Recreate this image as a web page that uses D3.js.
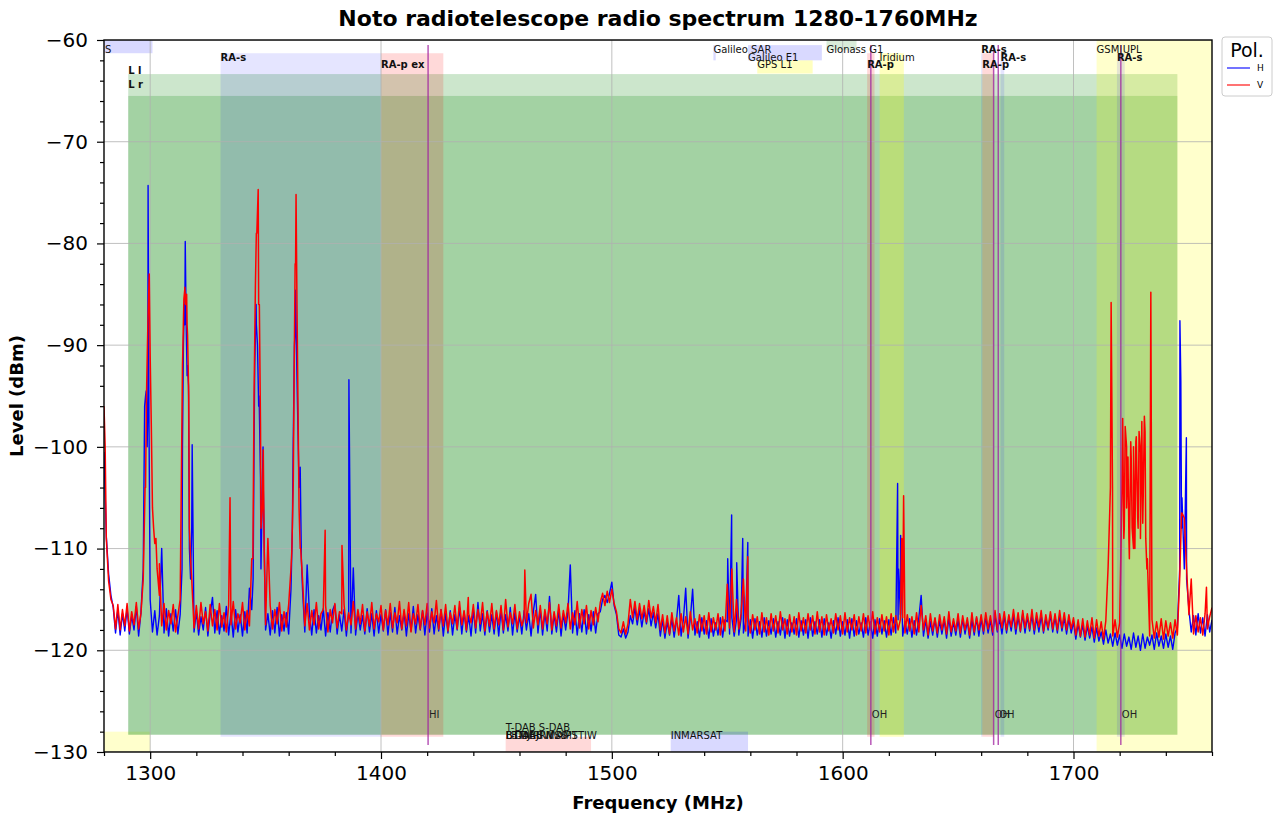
<!DOCTYPE html>
<html>
<head>
<meta charset="utf-8">
<script src="https://cdn.jsdelivr.net/npm/d3@7"></script>
<style>
  body { margin: 0; background: #fff; }
  svg { font-family: "DejaVu Sans", sans-serif; }
</style>
</head>
<body>
<svg id="chart" width="1274" height="818"></svg>
<script>
'use strict';

// Spectrum levels (dBm), one sample per MHz starting at 1280 MHz
const fStart = 1280;
const levelH = [
  -100.5,-108.8,-112.5,-114.6,-115.8,-118.3,-116.0,-118.5,-116.4,-118.1,
  -115.9,-118.4,-116.6,-118.0,-115.7,-118.6,-116.3,-112.0,-95.0,-96.0,
  -115.0,-118.2,-116.1,-118.5,-116.6,-110.0,-118.3,-115.9,-118.6,-116.4,
  -118.1,-116.0,-118.4,-116.5,-100.0,-88.0,-93.0,-110.0,-108.0,-118.2,
  -116.2,-118.5,-116.7,-118.0,-115.8,-118.6,-116.4,-114.8,-118.3,-116.1,
  -118.4,-116.6,-118.1,-115.7,-118.5,-116.3,-118.7,-116.0,-118.2,-116.5,
  -118.6,-116.2,-118.3,-113.9,-116.0,-100.0,-88.0,-96.0,-112.0,-104.0,
  -118.0,-116.4,-118.5,-116.1,-118.3,-115.8,-118.6,-116.5,-118.1,-116.3,
  -118.4,-114.0,-99.0,-88.0,-98.0,-103.0,-114.0,-118.2,-111.6,-116.4,
  -118.5,-116.0,-118.3,-116.6,-118.0,-115.9,-118.6,-116.3,-118.2,-116.1,
  -115.5,-118.4,-116.5,-118.1,-116.0,-118.6,-116.2,-118.3,-111.9,-118.5,
  -116.3,-118.0,-116.6,-118.4,-115.9,-118.2,-116.4,-118.6,-116.1,-118.3,
  -116.5,-118.1,-116.0,-118.5,-116.3,-118.2,-115.8,-118.4,-116.6,-118.0,
  -116.2,-118.6,-116.4,-118.1,-115.7,-118.3,-116.5,-118.0,-116.1,-118.5,
  -116.3,-118.2,-115.9,-118.4,-116.6,-118.1,-116.0,-118.6,-116.4,-118.3,
  -116.1,-118.5,-116.5,-118.0,-115.8,-118.4,-116.2,-118.2,-116.6,-118.6,
  -116.0,-118.3,-115.3,-118.1,-116.4,-118.5,-116.1,-118.2,-116.5,-118.4,
  -116.2,-118.6,-116.0,-118.3,-116.5,-118.1,-115.8,-118.5,-116.3,-118.2,
  -116.6,-118.4,-116.1,-118.0,-116.4,-118.6,-116.2,-114.5,-118.3,-116.0,
  -118.5,-116.3,-118.1,-114.7,-118.4,-116.5,-118.2,-116.0,-118.6,-116.4,
  -118.0,-116.2,-111.6,-118.3,-116.1,-118.5,-116.4,-118.2,-116.0,-118.4,
  -116.5,-118.1,-116.2,-118.3,-116.4,-116.2,-115.0,-114.6,-115.3,-114.4,
  -113.3,-115.6,-116.5,-118.5,-118.7,-117.9,-118.8,-118.2,-116.6,-117.4,
  -115.8,-117.5,-116.0,-117.7,-116.2,-117.4,-115.9,-117.6,-116.3,-117.8,
  -116.4,-118.6,-117.0,-118.8,-117.2,-118.5,-116.9,-118.7,-117.1,-114.6,
  -118.6,-117.0,-113.9,-118.8,-116.9,-114.0,-118.5,-117.2,-118.7,-116.8,
  -118.4,-117.1,-118.8,-116.9,-118.6,-117.3,-118.5,-116.8,-118.7,-117.0,
  -117.2,-118.4,-116.8,-118.6,-117.0,-118.5,-116.9,-118.3,-117.1,-118.6,
  -117.0,-118.8,-116.9,-118.5,-117.2,-118.7,-116.8,-118.6,-117.1,-118.4,
  -116.9,-118.7,-117.2,-118.5,-116.8,-118.8,-117.0,-118.6,-117.3,-118.4,
  -116.9,-118.7,-117.1,-118.5,-117.0,-118.8,-116.8,-118.6,-117.2,-118.4,
  -117.0,-118.7,-116.9,-118.5,-117.3,-118.8,-117.1,-118.4,-116.8,-118.6,
  -117.2,-118.5,-117.0,-118.8,-116.9,-118.6,-117.1,-118.4,-117.3,-118.7,
  -116.8,-118.5,-117.2,-118.8,-117.0,-118.6,-116.9,-118.4,-117.1,-118.7,
  -117.0,-118.5,-116.8,-118.3,-117.0,-116.5,-118.6,-117.2,-118.4,-116.9,
  -118.7,-117.1,-118.5,-116.8,-114.6,-118.6,-117.0,-118.8,-117.2,-118.5,
  -116.9,-118.7,-117.1,-118.4,-117.0,-118.8,-116.8,-118.6,-117.2,-118.5,
  -117.0,-118.7,-116.9,-118.4,-117.1,-118.8,-117.0,-118.5,-116.8,-118.6,
  -116.9,-118.4,-116.7,-118.3,-117.0,-118.5,-116.6,-118.2,-116.9,-118.4,
  -116.6,-118.3,-116.8,-118.1,-116.5,-118.4,-116.7,-118.2,-116.4,-118.3,
  -116.7,-118.1,-116.5,-118.4,-116.8,-118.2,-116.6,-118.3,-116.9,-118.0,
  -116.5,-118.2,-116.7,-118.3,-116.6,-118.1,-116.8,-118.4,-116.9,-118.3,
  -117.2,-118.9,-117.4,-118.7,-117.5,-119.0,-117.6,-118.8,-117.7,-119.2,
  -117.8,-119.1,-118.2,-119.4,-118.0,-119.3,-118.4,-119.6,-118.3,-119.5,
  -118.5,-119.8,-118.4,-119.6,-118.7,-119.9,-118.3,-119.7,-118.6,-120.0,
  -118.4,-119.8,-118.7,-119.5,-118.5,-119.9,-118.3,-119.6,-118.6,-119.8,
  -118.4,-119.7,-118.6,-119.9,-118.3,-117.8,-112.0,-105.0,-112.0,-113.0,
  -116.0,-118.2,-116.6,-118.5,-116.4,-118.3,-116.8,-118.6,-116.5,-118.2,
  -117.0
];
const levelV = [
  -96.0,-109.0,-113.2,-115.0,-115.6,-117.9,-115.5,-118.0,-116.0,-117.6,
  -115.4,-118.1,-116.2,-117.5,-115.3,-117.9,-116.4,-113.0,-104.0,-88.0,
  -91.0,-106.0,-109.5,-112.0,-114.6,-117.6,-115.4,-118.0,-116.1,-117.4,
  -115.5,-118.2,-116.6,-115.0,-92.0,-84.5,-88.0,-108.0,-113.0,-117.8,
  -115.6,-117.9,-115.3,-117.4,-116.2,-118.1,-115.5,-117.6,-116.0,-118.0,
  -115.4,-117.7,-116.3,-118.2,-115.6,-117.5,-115.2,-117.9,-116.4,-117.3,
  -115.3,-118.0,-116.1,-117.6,-111.0,-95.0,-79.0,-86.0,-108.0,-100.3,
  -117.5,-109.0,-115.6,-117.9,-116.0,-117.4,-115.3,-118.1,-116.2,-117.7,
  -115.5,-112.0,-103.5,-82.0,-95.0,-110.0,-113.0,-117.6,-115.4,-118.0,
  -116.1,-117.5,-115.3,-117.9,-116.4,-116.0,-115.6,-118.2,-116.0,-117.3,
  -115.4,-117.8,-116.2,-116.4,-115.5,-118.0,-116.3,-117.5,-115.2,-117.9,
  -116.0,-117.4,-115.5,-118.1,-116.2,-117.6,-115.3,-117.9,-116.4,-117.2,
  -115.6,-118.0,-116.1,-117.5,-115.4,-117.8,-116.3,-117.3,-115.2,-117.9,
  -116.0,-117.6,-115.3,-118.2,-116.4,-117.4,-115.5,-117.9,-116.1,-117.5,
  -115.4,-117.8,-116.2,-117.3,-115.1,-117.9,-116.0,-117.6,-115.5,-118.1,
  -116.3,-117.4,-115.6,-117.9,-115.2,-117.5,-116.1,-118.0,-116.4,-117.3,
  -115.5,-117.8,-116.0,-117.4,-115.3,-118.1,-116.2,-117.6,-115.4,-117.9,
  -116.1,-117.5,-115.6,-118.0,-115.0,-117.7,-116.3,-117.4,-115.5,-117.9,
  -116.2,-117.6,-116.8,-117.3,-115.4,-114.5,-117.8,-116.1,-117.5,-115.6,
  -117.9,-116.0,-117.4,-115.3,-118.0,-116.2,-117.6,-115.5,-117.8,-116.1,
  -117.3,-115.4,-117.9,-116.3,-117.5,-115.2,-117.8,-116.0,-117.4,-115.6,
  -117.9,-116.1,-117.5,-115.8,-117.2,-115.3,-114.4,-115.6,-114.2,-115.3,
  -114.0,-115.4,-116.2,-117.9,-118.3,-117.2,-118.4,-117.4,-115.0,-116.8,
  -115.2,-117.0,-115.4,-116.9,-115.6,-117.2,-115.1,-116.8,-115.7,-117.3,
  -115.5,-118.0,-116.5,-118.3,-116.6,-118.4,-116.3,-118.1,-116.8,-118.5,
  -116.4,-118.2,-116.7,-118.4,-116.2,-118.0,-116.9,-118.3,-116.5,-118.1,
  -116.6,-118.4,-116.3,-118.2,-116.8,-118.0,-116.4,-118.5,-116.7,-118.1,
  -113.5,-117.8,-112.0,-118.2,-115.0,-117.9,-116.4,-113.0,-118.1,-116.6,
  -118.3,-116.5,-118.0,-116.7,-118.4,-116.3,-118.2,-116.8,-118.5,-116.4,
  -118.1,-116.6,-118.3,-116.2,-118.0,-116.9,-118.4,-116.5,-118.2,-116.7,
  -118.5,-116.3,-118.1,-116.8,-118.3,-116.4,-118.0,-116.6,-118.4,-116.2,
  -118.2,-116.7,-118.5,-116.5,-118.1,-116.9,-118.3,-116.4,-118.0,-116.6,
  -118.4,-116.3,-118.2,-116.8,-118.0,-116.5,-118.5,-116.7,-118.1,-116.4,
  -118.3,-116.6,-118.0,-116.2,-118.4,-116.8,-118.2,-116.5,-118.1,-116.7,
  -118.5,-116.4,-118.2,-116.6,-118.0,-117.0,-116.8,-118.3,-116.5,-118.1,
  -116.7,-118.4,-116.3,-118.2,-115.6,-118.0,-116.6,-118.5,-116.4,-118.1,
  -116.8,-118.3,-116.5,-118.0,-116.7,-118.4,-116.2,-118.2,-116.9,-118.1,
  -116.4,-118.3,-116.6,-118.0,-116.8,-118.5,-116.3,-118.2,-116.7,-118.0,
  -116.5,-118.1,-116.3,-117.9,-116.6,-118.2,-116.1,-118.0,-116.4,-117.8,
  -116.2,-118.0,-116.5,-117.7,-116.0,-117.9,-116.3,-118.1,-116.1,-117.8,
  -116.4,-117.9,-116.0,-118.0,-116.3,-117.7,-116.1,-118.1,-116.5,-117.8,
  -116.2,-117.9,-116.4,-118.0,-116.1,-117.8,-116.3,-118.0,-116.5,-117.9,
  -116.8,-118.5,-117.0,-118.6,-116.9,-118.7,-117.1,-118.5,-116.8,-118.8,
  -117.0,-118.6,-117.2,-118.9,-117.1,-111.8,-104.0,-118.6,-117.0,-118.7,
  -117.3,-104.0,-108.0,-100.0,-109.0,-101.0,-110.0,-99.5,-108.0,-100.5,
  -107.5,-98.5,-111.0,-118.6,-117.0,-118.8,-117.2,-118.7,-116.9,-118.9,
  -117.1,-118.6,-117.3,-118.8,-117.0,-118.5,-113.0,-106.5,-107.0,-112.0,
  -116.5,-113.0,-118.4,-116.6,-118.2,-116.8,-118.5,-116.4,-117.9,-116.7,
  -115.8
];

// Narrow peaks read between the 1 MHz samples: [MHz, dBm]
const peaksH = [
  [1297.6,-96],[1298.3,-94.5],[1298.7,-100],[1299.1,-74.3],[1299.5,-98],
  [1313.8,-112],[1314.4,-90],[1314.8,-86],[1315.2,-79.8],[1315.6,-88],[1316.2,-92],
  [1316.6,-94],[1317.5,-113],[1318.2,-99.8],
  [1344.6,-113],[1345.3,-92],[1345.9,-86],[1346.5,-90],[1347.2,-95],[1347.8,-103],[1348.9,-100],
  [1361.6,-108],[1362.0,-99.3],[1362.5,-90],[1363.0,-84.6],[1363.5,-92],[1364.0,-98],
  [1364.5,-104],[1365.0,-102],[1365.5,-111],
  [1386.1,-93.4],
  [1550.2,-111],[1551.9,-106.7],[1554.1,-111.4],[1556.7,-109],[1558.9,-109.4],
  [1623.8,-103.6],[1624.2,-112],[1625.1,-108.7],
  [1746.1,-87.6],[1746.5,-93.5],[1746.8,-108],[1748.9,-99.1]
];
const peaksV = [
  [1280.5,-100],[1297.8,-104],[1298.4,-95],[1299.0,-88],[1299.6,-83],[1300.5,-98],
  [1301.5,-108],[1302.5,-109],[1304.0,-111.5],
  [1314.2,-90],[1314.6,-85.5],[1315.0,-84.3],[1315.4,-86],[1315.8,-85],[1316.2,-89],
  [1316.7,-95],[1317.5,-111],
  [1334.6,-105],
  [1344.5,-111],[1345.0,-95],[1345.6,-84],[1346.2,-79],[1346.8,-74.7],[1347.3,-86],
  [1347.8,-98],[1348.6,-106],[1349.0,-100.3],[1349.4,-110],
  [1361.4,-110],[1362.0,-103.5],[1362.4,-92],[1362.8,-82],[1363.2,-75.2],[1363.6,-86],
  [1364.0,-95],[1364.5,-106],[1365.2,-110],
  [1375.8,-108.2],[1383.1,-109.7],
  [1437.8,-114.8],[1462.3,-112.1],
  [1558.9,-110.8],
  [1625.6,-109],[1626.4,-104.8],
  [1716.3,-85.8],[1716.9,-104],
  [1721.3,-97.2],[1721.8,-109],[1722.4,-98],[1723.0,-106],[1723.6,-101],[1724.2,-111],
  [1724.8,-99.5],[1725.4,-108],[1726.0,-100],[1726.6,-110],[1727.2,-99],[1727.8,-107],
  [1728.4,-98.5],[1729.0,-109],[1729.6,-97.5],[1730.2,-105],[1730.7,-97],[1731.3,-109],
  [1731.8,-112],
  [1733.5,-84.8],
  [1746.8,-106.5],[1748.0,-107],
  [1757.6,-113.8]
];

const xTicks = [1300, 1400, 1500, 1600, 1700];
const yTicks = [-60, -70, -80, -90, -100, -110, -120, -130];

// Frequency allocations drawn behind the spectrum: [label, from MHz, to MHz, slot]
const bands = [
  ['S', 1250, 1301, 'topBlue'],
  ['', 1280, 1300, 'botYellow'],
  ['L l', 1290.5, 1745, 'Ll'],
  ['L r', 1290.5, 1745, 'Lr'],
  ['RA-s', 1330.5, 1400, 'raB'],
  ['RA-p ex', 1400, 1427, 'rapC'],
  ['Galileo SAR', 1544, 1545, 'gnssA'],
  ['Galileo E1', 1559, 1591, 'gnssB'],
  ['GPS L1', 1563, 1587, 'gnssC'],
  ['Glonass G1', 1593, 1606, 'glo'],
  ['RA-p', 1610.6, 1613.8, 'rapC'],
  ['Iridium', 1616, 1626.5, 'irid'],
  ['RA-s', 1660, 1660.5, 'raA'],
  ['RA-p', 1660.5, 1665.5, 'rapC'],
  ['RA-s', 1668.4, 1670, 'raB'],
  ['GSM|UPL', 1710, 1785, 'gsm'],
  ['RA-s', 1718.8, 1722.2, 'raB'],
  ['T-DAB S-DAB', 1454, 1491, 'dab'],
  ['L-DAB', 1454, 1491, 'dabx'],
  ['BT-DAB MSS', 1454, 1491, 'dabx'],
  ['BTMJ RIW AMT', 1454, 1491, 'dabx'],
  ['LBTM JRIWXPSTIW', 1454, 1491, 'dabx'],
  ['INMARSAT', 1525.5, 1559, 'inm']
];

// Spectral lines marked with a vertical rule
const lineNames = ['HI', 'OH', 'OH', 'OH', 'OH'];
const lineFreqs = [1420.4, 1612.2, 1665.4, 1667.4, 1720.5];

// Vertical extent (dBm), label row and colour of each band slot
const slotStyle = {
  topBlue:   {y0: -60,   y1: -61.3, ty: -60.9, color: 'blue',   alpha: 0.15, bold: false},
  botYellow: {y0: -128,  y1: -130,  ty: null,  color: 'yellow', alpha: 0.2,  bold: false},
  Ll:        {y0: -63.35, y1: -128.3, ty: -62.95, color: 'green', alpha: 0.2, bold: true},
  Lr:        {y0: -65.5, y1: -128.3, ty: -64.4, color: 'green',  alpha: 0.2,  bold: true},
  raA:       {y0: -61.3, y1: -128.5, ty: -60.9, color: 'blue',   alpha: 0.1,  bold: true},
  raB:       {y0: -61.3, y1: -128.5, ty: -61.7, color: 'blue',   alpha: 0.1,  bold: true},
  rapC:      {y0: -61.3, y1: -128.5, ty: -62.4, color: 'red',    alpha: 0.15, bold: true},
  gnssA:     {y0: -60.5, y1: -62,   ty: -60.9, color: 'blue',   alpha: 0.15, bold: false},
  gnssB:     {y0: -60.5, y1: -62,   ty: -61.7, color: 'blue',   alpha: 0.15, bold: false},
  gnssC:     {y0: -62,   y1: -63.3, ty: -62.4, color: 'yellow', alpha: 0.25, bold: false},
  glo:       {y0: -60,   y1: -61,   ty: -60.9, color: 'green',  alpha: 0.15, bold: false},
  irid:      {y0: -61.3, y1: -128.5, ty: -61.7, color: 'yellow', alpha: 0.25, bold: false},
  gsm:       {y0: -60,   y1: -130,  ty: -60.9, color: 'yellow', alpha: 0.2,  bold: false},
  dab:       {y0: -128.5, y1: -130, ty: -127.6, color: 'red',   alpha: 0.15, bold: false},
  dabx:      {y0: null,  y1: null,  ty: -128.4, color: 'red',    alpha: 0,    bold: false},
  inm:       {y0: -128,  y1: -130,  ty: -128.4, color: 'blue',   alpha: 0.15, bold: false}
};

const margin = {top: 40, right: 62, bottom: 66, left: 104};
const width = 1274, height = 818;
const svg = d3.select('#chart');

const x = d3.scaleLinear().domain([1280, 1760]).range([margin.left, width - margin.right]);
const y = d3.scaleLinear().domain([-130, -60]).range([height - margin.bottom, margin.top]);

svg.append('defs').append('clipPath').attr('id', 'plotClip')
  .append('rect')
  .attr('x', x(1280)).attr('y', y(-60))
  .attr('width', x(1760) - x(1280)).attr('height', y(-130) - y(-60));

const plot = svg.append('g').attr('clip-path', 'url(#plotClip)');

// Bands
const rectBands = bands.filter(b => slotStyle[b[3]].y0 !== null);
plot.append('g').selectAll('rect').data(rectBands).join('rect')
  .attr('x', b => x(b[1]))
  .attr('width', b => x(b[2]) - x(b[1]))
  .attr('y', b => y(slotStyle[b[3]].y0))
  .attr('height', b => y(slotStyle[b[3]].y1) - y(slotStyle[b[3]].y0))
  .attr('fill', b => slotStyle[b[3]].color)
  .attr('fill-opacity', b => slotStyle[b[3]].alpha);

// Grid
const grid = plot.append('g').attr('stroke', '#b0b0b0').attr('stroke-width', 0.8);
grid.selectAll('.gx').data(xTicks).join('line')
  .attr('x1', d => x(d)).attr('x2', d => x(d))
  .attr('y1', y(-60)).attr('y2', y(-130));
grid.selectAll('.gy').data(yTicks).join('line')
  .attr('x1', x(1280)).attr('x2', x(1760))
  .attr('y1', d => y(d)).attr('y2', d => y(d));

// Merge the 1 MHz samples with the peak readings
function series(levels, peaks) {
  let pts = levels.map((v, i) => [fStart + i, v]).concat(peaks);
  return pts.sort((a, b) => a[0] - b[0]);
}
const line = d3.line().x(d => x(d[0])).y(d => y(d[1]));

plot.append('path')
  .attr('fill', 'none').attr('stroke', '#0000ff').attr('stroke-width', 1.4)
  .attr('stroke-linejoin', 'round')
  .attr('d', line(series(levelH, peaksH)));
plot.append('path')
  .attr('fill', 'none').attr('stroke', '#ff0000').attr('stroke-width', 1.5)
  .attr('stroke-linejoin', 'round')
  .attr('d', line(series(levelV, peaksV)));

// Spectral line markers
plot.append('g').selectAll('line').data(lineFreqs).join('line')
  .attr('x1', d => x(d)).attr('x2', d => x(d))
  .attr('y1', y(-60.5)).attr('y2', y(-129.3))
  .attr('stroke', '#a020a0').attr('stroke-opacity', 0.75).attr('stroke-width', 1.5);
plot.append('g').selectAll('text').data(lineFreqs).join('text')
  .attr('x', d => x(d) + 1).attr('y', y(-126.3))
  .attr('dominant-baseline', 'central')
  .attr('font-size', 10).attr('fill', '#222')
  .text((d, i) => lineNames[i]);

// Band labels
const labelled = bands.filter(b => b[0] !== '' && slotStyle[b[3]].ty !== null);
plot.append('g').selectAll('text').data(labelled).join('text')
  .attr('x', b => x(Math.max(b[1], 1280)) + (b[1] < 1280 ? 1 : 0))
  .attr('y', b => y(slotStyle[b[3]].ty))
  .attr('dominant-baseline', 'central')
  .attr('font-size', 10)
  .attr('font-weight', b => slotStyle[b[3]].bold ? 'bold' : 'normal')
  .attr('fill', '#111')
  .text(b => b[0]);

// Axes
const axX = svg.append('g').attr('transform', 'translate(0,' + y(-130) + ')')
  .call(d3.axisBottom(x).tickValues(xTicks).tickFormat(d3.format('d')).tickSize(7).tickPadding(7));
svg.append('g').attr('transform', 'translate(0,' + y(-130) + ')')
  .call(d3.axisBottom(x).tickValues(d3.range(1280, 1761, 20).filter(d => d % 100 !== 0))
    .tickFormat('').tickSize(4));
const axY = svg.append('g').attr('transform', 'translate(' + x(1280) + ',0)')
  .call(d3.axisLeft(y).tickValues(yTicks).tickSize(7).tickPadding(9));
svg.append('g').attr('transform', 'translate(' + x(1280) + ',0)')
  .call(d3.axisLeft(y).tickValues(d3.range(-128, -60, 2).filter(d => d % 10 !== 0))
    .tickFormat('').tickSize(4));
svg.selectAll('.domain').remove();
svg.selectAll('.tick line').attr('stroke', '#000').attr('stroke-width', 1.2);
axX.selectAll('text').attr('font-size', 20).attr('font-family', 'DejaVu Sans').attr('fill', '#000');
axY.selectAll('text').attr('font-size', 20).attr('font-family', 'DejaVu Sans').attr('fill', '#000');

// Frame
svg.append('rect')
  .attr('x', x(1280)).attr('y', y(-60))
  .attr('width', x(1760) - x(1280)).attr('height', y(-130) - y(-60))
  .attr('fill', 'none').attr('stroke', '#000').attr('stroke-width', 1.4);

// Titles
svg.append('text')
  .attr('x', (x(1280) + x(1760)) / 2).attr('y', 26)
  .attr('text-anchor', 'middle').attr('font-size', 22).attr('font-weight', 'bold')
  .text('Noto radiotelescope radio spectrum 1280-1760MHz');
svg.append('text')
  .attr('x', (x(1280) + x(1760)) / 2).attr('y', 809)
  .attr('text-anchor', 'middle').attr('font-size', 18).attr('font-weight', 'bold')
  .text('Frequency (MHz)');
svg.append('text')
  .attr('transform', 'translate(23,' + (y(-60) + y(-130)) / 2 + ') rotate(-90)')
  .attr('text-anchor', 'middle').attr('font-size', 18).attr('font-weight', 'bold')
  .text('Level (dBm)');

// Legend
const legend = svg.append('g').attr('transform', 'translate(1222,37)');
legend.append('rect')
  .attr('width', 50).attr('height', 59).attr('rx', 3)
  .attr('fill', '#fff').attr('stroke', '#ccc');
legend.append('text')
  .attr('x', 25).attr('y', 20).attr('text-anchor', 'middle')
  .attr('font-size', 19).text('Pol.');
[['H', '#0000ff'], ['V', '#ff0000']].forEach(function(d, i) {
  legend.append('line')
    .attr('x1', 5).attr('x2', 28).attr('y1', 31 + i * 17).attr('y2', 31 + i * 17)
    .attr('stroke', d[1]).attr('stroke-width', 1.1);
  legend.append('text')
    .attr('x', 35).attr('y', 31 + i * 17).attr('dominant-baseline', 'central')
    .attr('font-size', 9).text(d[0]);
});
</script>
</body>
</html>
